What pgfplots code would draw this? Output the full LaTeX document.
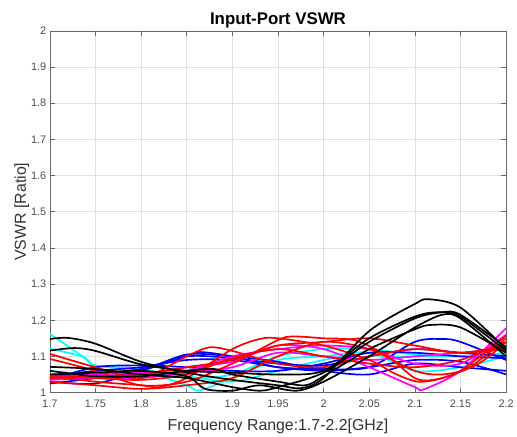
\documentclass[border=0pt]{standalone}
\usepackage{pgfplots}
\pgfplotsset{compat=1.18}
\usepackage{fontspec}
\setmainfont{Liberation Sans}
\definecolor{mred}{rgb}{1,0,0}
\definecolor{mblue}{rgb}{0,0,1}
\definecolor{mcyan}{rgb}{0,1,1}
\definecolor{mmag}{rgb}{1,0,1}
\definecolor{axgray}{gray}{0.4}
\definecolor{gridgray}{gray}{0.88}
\begin{document}
\begin{tikzpicture}
\begin{axis}[
  scale only axis, width=458bp, height=363bp,
  xmin=1.7, xmax=2.2, ymin=1, ymax=2,
  xtick={1.7,1.75,1.8,1.85,1.9,1.95,2,2.05,2.1,2.15,2.2},
  xticklabels={1.7,1.75,1.8,1.85,1.9,1.95,2,2.05,2.1,2.15,2.2},
  ytick={1,1.1,1.2,1.3,1.4,1.5,1.6,1.7,1.8,1.9,2},
  yticklabels={1,1.1,1.2,1.3,1.4,1.5,1.6,1.7,1.8,1.9,2},
  tick align=inside, major tick length=5bp,
  xtick pos=both, ytick pos=both,
  grid=major, major grid style={gridgray, line width=0.5bp},
  axis line style={axgray, line width=0.6bp},
  tick style={axgray, line width=0.6bp},
  ticklabel style={font=\fontsize{11}{13}\selectfont, text=black!70},
  xticklabel style={yshift=-4bp},
  /pgf/number format/assume math mode=true,
  title={Input-Port VSWR},
  title style={font=\bfseries\fontsize{17}{20}\selectfont, text=black, yshift=-7bp},
  xlabel={Frequency Range:1.7-2.2[GHz]},
  ylabel={VSWR [Ratio]},
  label style={font=\fontsize{16}{19}\selectfont, text=black!80},
  xlabel style={yshift=-4bp},
  ylabel style={yshift=-5bp},
  every axis plot/.append style={line width=1.7bp, smooth, tension=0.5},
  clip=true,
]
% cyan
\addplot[mcyan] coordinates {(1.7,1.162)(1.74,1.093)(1.75,1.075)(1.8,1.06)(1.85,1.02)(1.864,1.006)(1.9,1.04)(1.95,1.09)(2.0,1.1)(2.05,1.11)(2.1,1.06)(2.15,1.07)(2.2,1.1)};
\addplot[mcyan] coordinates {(1.7,1.121)(1.735,1.1)(1.75,1.075)(1.8,1.065)(1.85,1.04)(1.9,1.05)(1.95,1.1)(2.0,1.12)(2.05,1.12)(2.1,1.105)(2.15,1.1)(2.2,1.11)};
\addplot[mcyan] coordinates {(1.7,1.06)(1.75,1.05)(1.8,1.055)(1.85,1.045)(1.9,1.03)(1.95,1.06)(2.0,1.09)(2.05,1.11)(2.07,1.1)(2.1,1.1)(2.15,1.1)(2.2,1.105)};
% blue
\addplot[mblue] coordinates {(1.7,1.03)(1.75,1.025)(1.8,1.06)(1.85,1.1)(1.864,1.112)(1.9,1.1)(1.95,1.07)(2.0,1.065)(2.05,1.07)(2.1,1.14)(2.13,1.148)(2.15,1.14)(2.2,1.09)};
\addplot[mblue] coordinates {(1.7,1.04)(1.75,1.05)(1.8,1.065)(1.85,1.1)(1.9,1.095)(1.95,1.08)(2.0,1.075)(2.05,1.1)(2.1,1.12)(2.15,1.11)(2.2,1.1)};
\addplot[mblue] coordinates {(1.7,1.045)(1.75,1.06)(1.8,1.07)(1.85,1.09)(1.9,1.09)(1.95,1.07)(2.0,1.06)(2.05,1.07)(2.1,1.09)(2.15,1.085)(2.2,1.05)};
\addplot[mblue] coordinates {(1.7,1.035)(1.75,1.07)(1.8,1.075)(1.85,1.07)(1.9,1.06)(1.95,1.06)(2.0,1.08)(2.05,1.11)(2.1,1.11)(2.15,1.1)(2.2,1.095)};
\addplot[mblue] coordinates {(1.7,1.025)(1.75,1.04)(1.8,1.06)(1.85,1.105)(1.9,1.1)(1.95,1.085)(2.0,1.06)(2.05,1.05)(2.1,1.08)(2.15,1.07)(2.2,1.06)};
% magenta
\addplot[mmag] coordinates {(1.7,1.04)(1.75,1.045)(1.8,1.05)(1.85,1.07)(1.9,1.085)(1.95,1.13)(2.0,1.12)(2.05,1.07)(2.1,1.015)(2.11,1.009)(2.15,1.06)(2.2,1.178)};
\addplot[mmag] coordinates {(1.7,1.045)(1.75,1.05)(1.8,1.055)(1.85,1.06)(1.9,1.1)(1.95,1.12)(2.0,1.13)(2.05,1.12)(2.1,1.08)(2.15,1.08)(2.2,1.16)};
\addplot[mmag] coordinates {(1.7,1.035)(1.75,1.04)(1.8,1.04)(1.85,1.055)(1.9,1.07)(1.95,1.11)(2.0,1.1)(2.05,1.09)(2.1,1.1)(2.15,1.11)(2.2,1.12)};
% red
\addplot[mred] coordinates {(1.7,1.107)(1.75,1.07)(1.8,1.04)(1.85,1.1)(1.875,1.125)(1.9,1.115)(1.95,1.08)(2.0,1.07)(2.05,1.1)(2.1,1.12)(2.15,1.11)(2.2,1.12)};
\addplot[mred] coordinates {(1.7,1.093)(1.75,1.06)(1.8,1.02)(1.85,1.03)(1.9,1.08)(1.95,1.145)(1.967,1.155)(2.0,1.15)(2.035,1.144)(2.07,1.1)(2.1,1.04)(2.12,1.035)(2.15,1.06)(2.2,1.157)};
\addplot[mred] coordinates {(1.7,1.045)(1.75,1.03)(1.8,1.02)(1.82,1.015)(1.85,1.04)(1.9,1.12)(1.93,1.148)(1.95,1.15)(2.0,1.13)(2.05,1.09)(2.08,1.05)(2.104,1.03)(2.13,1.04)(2.17,1.08)(2.2,1.14)};
\addplot[mred] coordinates {(1.7,1.04)(1.75,1.045)(1.8,1.05)(1.85,1.07)(1.9,1.09)(1.95,1.13)(2.0,1.14)(2.05,1.15)(2.1,1.13)(2.15,1.11)(2.2,1.13)};
\addplot[mred] coordinates {(1.7,1.03)(1.75,1.02)(1.8,1.01)(1.85,1.02)(1.9,1.04)(1.95,1.1)(2.0,1.14)(2.05,1.12)(2.1,1.06)(2.13,1.05)(2.16,1.07)(2.2,1.15)};
\addplot[mred] coordinates {(1.7,1.05)(1.75,1.04)(1.8,1.035)(1.85,1.05)(1.9,1.095)(1.95,1.12)(2.0,1.1)(2.05,1.08)(2.1,1.07)(2.15,1.09)(2.2,1.14)};
% black
\addplot[black] coordinates {(1.7,1.148)(1.72,1.151)(1.75,1.135)(1.8,1.085)(1.85,1.055)(1.9,1.035)(1.95,1.02)(1.975,1.012)(2.0,1.04)(2.05,1.17)(2.1,1.245)(2.115,1.258)(2.15,1.235)(2.2,1.12)};
\addplot[black] coordinates {(1.7,1.116)(1.727,1.123)(1.75,1.115)(1.8,1.078)(1.85,1.06)(1.9,1.055)(1.95,1.05)(2.0,1.06)(2.05,1.15)(2.1,1.21)(2.126,1.222)(2.15,1.21)(2.2,1.115)};
\addplot[black] coordinates {(1.7,1.071)(1.75,1.065)(1.8,1.05)(1.85,1.04)(1.9,1.015)(1.93,1.005)(1.95,1.015)(2.0,1.055)(2.05,1.14)(2.1,1.205)(2.13,1.222)(2.15,1.215)(2.2,1.125)};
\addplot[black] coordinates {(1.7,1.06)(1.75,1.045)(1.8,1.045)(1.85,1.06)(1.88,1.065)(1.9,1.05)(1.95,1.03)(1.98,1.02)(2.0,1.045)(2.05,1.12)(2.1,1.175)(2.118,1.187)(2.15,1.18)(2.2,1.11)};
\addplot[black] coordinates {(1.7,1.05)(1.75,1.055)(1.8,1.06)(1.85,1.045)(1.87,1.01)(1.9,1.005)(1.93,1.02)(1.97,1.005)(2.0,1.03)(2.05,1.1)(2.1,1.18)(2.13,1.215)(2.15,1.205)(2.2,1.1)};
\end{axis}
\path ([xshift=-50bp,yshift=-42bp]current axis.south west) rectangle ([xshift=9bp,yshift=31bp]current axis.north east);
\end{tikzpicture}
\end{document}
